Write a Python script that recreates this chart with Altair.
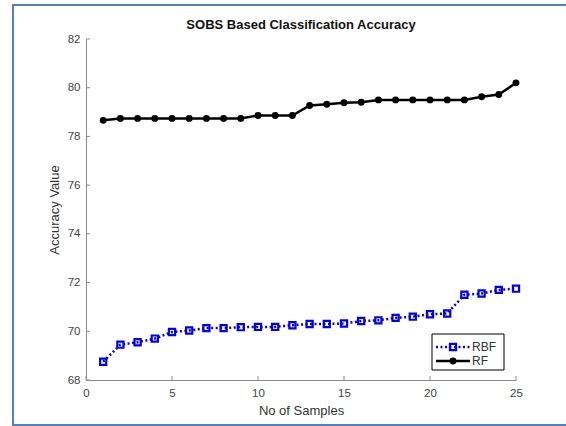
import altair as alt
import pandas as pd

# Accuracy per number of samples for the two classifiers
samples = list(range(1, 26))
rbf_acc = [68.75, 69.45, 69.55, 69.70, 69.97, 70.03, 70.13, 70.13, 70.17, 70.18,
           70.18, 70.25, 70.30, 70.30, 70.32, 70.42, 70.45, 70.55, 70.60, 70.70,
           70.73, 71.50, 71.55, 71.70, 71.75]
rf_acc = [78.66, 78.74, 78.74, 78.74, 78.74, 78.74, 78.74, 78.74, 78.74, 78.86,
          78.86, 78.86, 79.27, 79.32, 79.38, 79.40, 79.50, 79.50, 79.50, 79.50,
          79.50, 79.50, 79.63, 79.72, 80.20]

x_ticks = [0, 5, 10, 15, 20, 25]
y_ticks = [68, 70, 72, 74, 76, 78, 80, 82]

W, H = 430, 341
FONT = "Liberation Sans"
AXIS_GREY = "#8a8a8a"

df = pd.DataFrame({
    "samples": samples * 2,
    "acc": rbf_acc + rf_acc,
    "series": ["RBF"] * len(samples) + ["RF"] * len(samples),
})

x_scale = alt.Scale(domain=[0, 25], nice=False, zero=False)
y_scale = alt.Scale(domain=[68, 82], nice=False, zero=False)

x_axis = alt.Axis(values=x_ticks, title="No of Samples", grid=False, tickSize=0,
                  labelPadding=7, titlePadding=6, domainColor=AXIS_GREY,
                  labelFlush=False)
y_axis = alt.Axis(values=y_ticks, title="Accuracy Value", grid=False, tickSize=0,
                  labelPadding=6, titlePadding=6, domainColor=AXIS_GREY,
                  labelFlush=False)

base = alt.Chart(df).encode(
    x=alt.X("samples:Q", scale=x_scale, axis=x_axis),
    y=alt.Y("acc:Q", scale=y_scale, axis=y_axis),
)

rbf = base.transform_filter(alt.datum.series == "RBF")
rf = base.transform_filter(alt.datum.series == "RF")

rbf_line = rbf.mark_line(color="#0000ee", strokeWidth=2.5, strokeDash=[2, 2.5])
rbf_pts = rbf.mark_point(shape="square", filled=False, color="#0000ee",
                         strokeWidth=2.2, size=38, opacity=1)
rf_line = rf.mark_line(color="black", strokeWidth=2.5)
rf_pts = rf.mark_point(shape="circle", filled=True, color="black", size=48, opacity=1)

# inward tick marks on the left and bottom axes
ytick_df = pd.DataFrame({"acc": y_ticks})
xtick_df = pd.DataFrame({"samples": x_ticks})
y_tick_marks = alt.Chart(ytick_df).mark_rule(color=AXIS_GREY, strokeWidth=1).encode(
    y=alt.Y("acc:Q", scale=y_scale, axis=y_axis), x=alt.value(0), x2=alt.value(4))
x_tick_marks = alt.Chart(xtick_df).mark_rule(color=AXIS_GREY, strokeWidth=1).encode(
    x=alt.X("samples:Q", scale=x_scale, axis=x_axis), y=alt.value(H), y2=alt.value(H - 4))

one = pd.DataFrame({"k": [0]})

# chart title
title = alt.Chart(one).mark_text(text="SOBS Based Classification Accuracy", font=FONT,
                                 fontSize=13, fontWeight="bold", color="#111111",
                                 align="center", baseline="middle").encode(
    x=alt.value(W / 2), y=alt.value(-14))

# legend box in the lower right corner
lx0, lx1, ly0, ly1 = 346, 418, 295, 331
legend_box = alt.Chart(one).mark_rect(fill="white", stroke="black", strokeWidth=1).encode(
    x=alt.value(lx0), x2=alt.value(lx1), y=alt.value(ly0), y2=alt.value(ly1))
leg_rbf_line = alt.Chart(one).mark_rule(color="#0000ee", strokeWidth=2.5, strokeDash=[2, 2.5]).encode(
    x=alt.value(350), x2=alt.value(384), y=alt.value(308))
leg_rbf_pt = alt.Chart(one).mark_point(shape="square", filled=False, color="#0000ee",
                                       strokeWidth=2.2, size=38, opacity=1).encode(
    x=alt.value(367), y=alt.value(308))
leg_rf_line = alt.Chart(one).mark_rule(color="black", strokeWidth=2.5).encode(
    x=alt.value(350), x2=alt.value(384), y=alt.value(322))
leg_rf_pt = alt.Chart(one).mark_point(shape="circle", filled=True, color="black",
                                      size=48, opacity=1).encode(
    x=alt.value(367), y=alt.value(322))
leg_rbf_txt = alt.Chart(one).mark_text(text="RBF", align="left", baseline="middle",
                                       font=FONT, fontSize=12, color="#333333").encode(
    x=alt.value(386), y=alt.value(308))
leg_rf_txt = alt.Chart(one).mark_text(text="RF", align="left", baseline="middle",
                                      font=FONT, fontSize=12, color="#333333").encode(
    x=alt.value(386), y=alt.value(322))

# blue outer frame (left, top, bottom edges)
FRAME = "#4f81bd"
frame_left = alt.Chart(one).mark_rule(color=FRAME, strokeWidth=2).encode(
    x=alt.value(-73), y=alt.value(-34), y2=alt.value(386))
frame_top = alt.Chart(one).mark_rule(color=FRAME, strokeWidth=2).encode(
    x=alt.value(-74), x2=alt.value(480), y=alt.value(-34))
frame_bottom = alt.Chart(one).mark_rule(color=FRAME, strokeWidth=2).encode(
    x=alt.value(-74), x2=alt.value(480), y=alt.value(386))

chart = alt.layer(
    rbf_line, rbf_pts, rf_line, rf_pts,
    y_tick_marks, x_tick_marks,
    legend_box, leg_rbf_line, leg_rbf_pt, leg_rf_line, leg_rf_pt, leg_rbf_txt, leg_rf_txt,
    title, frame_left, frame_top, frame_bottom,
).properties(
    width=W, height=H,
    autosize=alt.AutoSizeParams(type="none"),
    padding={"left": 86, "top": 39, "right": 50, "bottom": 46},
    background="white",
).configure_view(stroke=None).configure_axis(
    labelFont=FONT, titleFont=FONT, labelFontSize=11.5, titleFontSize=13,
    titleFontWeight="normal", labelColor="#444444", titleColor="#333333",
)

chart.save("out.html", embed_options={"renderer": "svg", "actions": False})
